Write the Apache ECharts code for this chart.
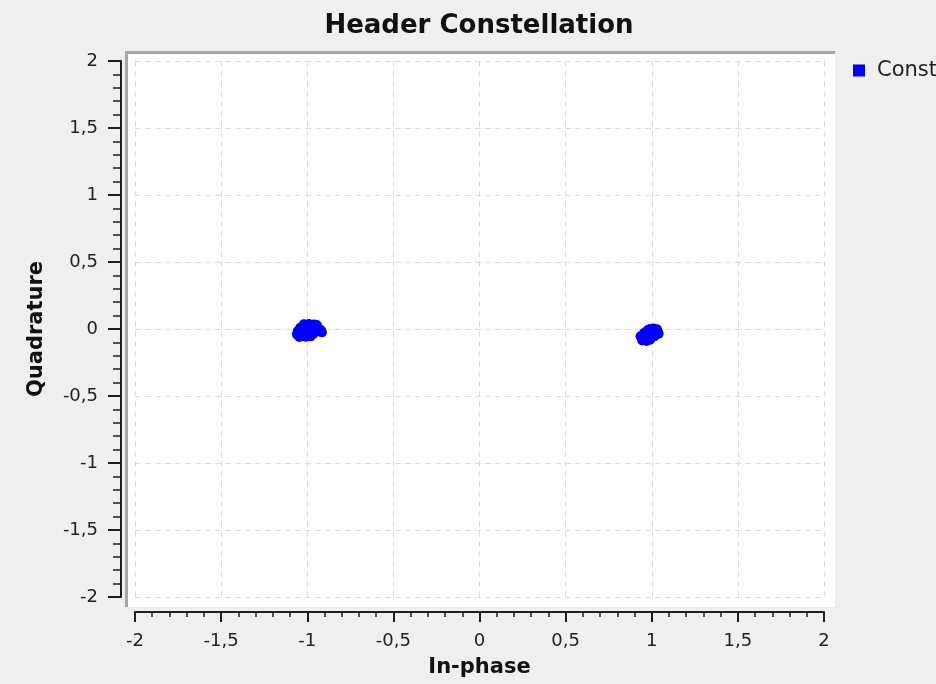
<!DOCTYPE html>
<html>
<head>
<meta charset="utf-8">
<title>Header Constellation</title>
<script src="https://cdn.jsdelivr.net/npm/echarts@6/dist/echarts.min.js"></script>
<style>
    html, body {margin: 0; padding: 0; background: #efefef;}
    #chart {width: 936px; height: 684px;}
</style>
</head>
<body>
<div id="chart"></div>
<script>
// 星座图数据 (I, Q)
var seriesName = "Constellation";
var xTicks = [-2, -1.5, -1, -0.5, 0, 0.5, 1, 1.5, 2];
var yTicks = [-2, -1.5, -1, -0.5, 0, 0.5, 1, 1.5, 2];

// -1 附近的点
var leftCluster = [
    [-1.02, 0.035], [-0.99, 0.037], [-0.96, 0.034], [-0.945, 0.03], [-1.005, 0.025],
    [-1.04, 0.01], [-1.0, 0.012], [-0.97, 0.008], [-0.935, 0.005], [-0.92, -0.01],
    [-1.055, -0.015], [-1.02, -0.02], [-0.985, -0.015], [-0.95, -0.02], [-0.915, -0.025],
    [-1.06, -0.04], [-1.03, -0.045], [-0.995, -0.04], [-0.965, -0.035],
    [-1.045, -0.06], [-1.01, -0.058], [-0.98, -0.055]
];
// +1 附近的点
var rightCluster = [
    [0.99, 0.0], [1.01, 0.003], [1.03, -0.002], [0.975, -0.01], [1.035, -0.02],
    [0.955, -0.03], [0.985, -0.028], [1.015, -0.03], [1.04, -0.035],
    [0.935, -0.055], [0.96, -0.06], [0.99, -0.058], [1.015, -0.055],
    [0.945, -0.085], [0.97, -0.09], [0.99, -0.08]
];

function commaLabel(v) {
    return String(v).replace('.', ',');
}

function drawChart() {
    var myChart = echarts.init(document.getElementById('chart'));
    var tickColor = '#1e1e1e';
    var gridLine = {show: true, lineStyle: {color: '#dddddd', type: [6, 4], width: 1}};

    var option = {
        backgroundColor: '#efefef',
        animation: false,
        title: {
            text: 'Header Constellation',
            left: 474,
            top: 8,
            textAlign: 'center',
            textStyle: {fontFamily: 'DejaVu Sans', fontWeight: 'bold', fontSize: 26, color: '#111'}
        },
        legend: {
            data: [seriesName],
            left: 853,
            top: 60,
            padding: 0,
            icon: 'rect',
            itemWidth: 12,
            itemHeight: 12,
            textStyle: {fontFamily: 'DejaVu Sans', fontSize: 21, color: '#222', padding: [0, 0, 0, 7]}
        },
        // 白色画布和左上边框
        graphic: [
            {type: 'rect', z: -10, shape: {x: 125, y: 51, width: 710, height: 556}, style: {fill: '#ffffff'}},
            {type: 'polyline', z: -9, shape: {points: [[126.5, 607], [126.5, 52.5], [835, 52.5]]},
                style: {stroke: '#a6a6a6', lineWidth: 3, fill: null}}
        ],
        grid: {left: 135, right: 112, top: 61, bottom: 87},
        xAxis: {
            type: 'value',
            min: xTicks[0],
            max: xTicks[xTicks.length - 1],
            interval: xTicks[1] - xTicks[0],
            offset: 15,
            name: 'In-phase',
            nameLocation: 'middle',
            nameGap: 45,
            nameTextStyle: {fontFamily: 'DejaVu Sans', fontWeight: 'bold', fontSize: 21, color: '#111'},
            axisLine: {show: true, onZero: false, lineStyle: {color: tickColor, width: 2}},
            axisTick: {show: true, length: 10, lineStyle: {color: tickColor, width: 2}},
            minorTick: {show: true, splitNumber: 5, length: 5, lineStyle: {color: tickColor, width: 1.5}},
            axisLabel: {formatter: commaLabel, fontFamily: 'DejaVu Sans', fontSize: 18, color: '#222', margin: 20},
            splitLine: gridLine
        },
        yAxis: {
            type: 'value',
            min: yTicks[0],
            max: yTicks[yTicks.length - 1],
            interval: yTicks[1] - yTicks[0],
            offset: 14,
            name: 'Quadrature',
            nameLocation: 'middle',
            nameRotate: 90,
            nameGap: 74,
            nameTextStyle: {fontFamily: 'DejaVu Sans', fontWeight: 'bold', fontSize: 21, color: '#111'},
            axisLine: {show: true, onZero: false, lineStyle: {color: tickColor, width: 2}},
            axisTick: {show: true, length: 13, lineStyle: {color: tickColor, width: 2}},
            minorTick: {show: true, splitNumber: 5, length: 8, lineStyle: {color: tickColor, width: 1.5}},
            axisLabel: {formatter: commaLabel, fontFamily: 'DejaVu Sans', fontSize: 18, color: '#222', margin: 23},
            splitLine: gridLine
        },
        series: [{
            name: seriesName,
            type: 'scatter',
            symbol: 'circle',
            symbolSize: 10,
            itemStyle: {color: '#0000ff', opacity: 1},
            data: leftCluster.concat(rightCluster)
        }]
    };
    myChart.setOption(option);
}

drawChart();
</script>
</body>
</html>
